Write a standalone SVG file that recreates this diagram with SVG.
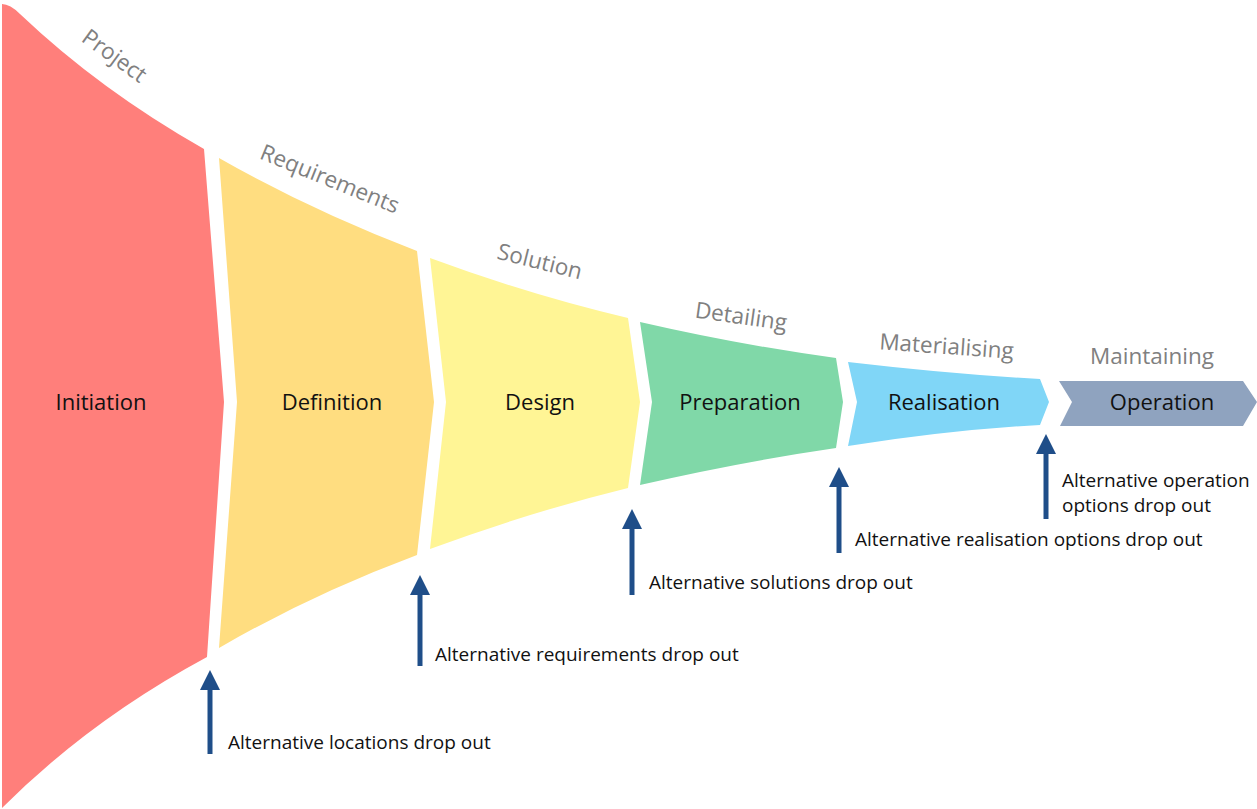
<svg xmlns="http://www.w3.org/2000/svg" width="1257" height="809" viewBox="0 0 1257 809">
<style>
.lbl{font-family:"Open Sans","Noto Sans",sans-serif;font-size:22px;fill:#111;text-anchor:middle;dominant-baseline:central}
.ph{font-family:"Open Sans","Noto Sans",sans-serif;font-size:22.5px;fill:#808080;text-anchor:middle}
.note{font-family:"Open Sans","Noto Sans",sans-serif;font-size:19px;fill:#111}
.arr{stroke:#1f4e89;stroke-width:5;fill:none}
</style>
<defs><marker id="ah" viewBox="0 0 10 10" refX="5" refY="5" markerWidth="4" markerHeight="4" orient="auto"><path d="M0,0L10,5L0,10z" fill="#1f4e89"/></marker></defs>
<rect width="1257" height="809" fill="#fff"/>
<g id="initiation"><path d="M2,4 Q10,4 20,14 Q100,90 204,149 L224,402 L207,657 Q90,720 2,808 Z" fill="#ff7f7b"/><text class="lbl" x="101" y="401">Initiation</text></g>
<g id="definition"><path d="M219,158 Q310,210 417,251 L434,402 L417,555 Q310,595 219,648 L237,402 Z" fill="#ffdd80"/><text class="lbl" x="332" y="401">Definition</text></g>
<g id="design"><path d="M430,258 Q530,295 628,318 L640,402 L628,488 Q530,512 430,549 L446,402 Z" fill="#fff595"/><text class="lbl" x="540" y="401">Design</text></g>
<g id="preparation"><path d="M640,322 Q740,345 836,358 L843,402 L836,448 Q740,462 640,485 L652,402 Z" fill="#80d8a8"/><text class="lbl" x="740" y="401">Preparation</text></g>
<g id="realisation"><path d="M848,362 Q950,374 1040,379 L1049,402 L1040,425 Q950,430 848,446 L857,402 Z" fill="#80d6f7"/><text class="lbl" x="944" y="401">Realisation</text></g>
<g id="operation"><path d="M1059,381 L1243,381 L1257,402 L1243,426 L1060,426 L1072,402 Z" fill="#8fa3bf"/><text class="lbl" x="1162" y="401">Operation</text></g>
<g id="phases">
<text class="ph" transform="translate(110,62) rotate(36)">Project</text>
<text class="ph" transform="translate(327,186) rotate(22)">Requirements</text>
<text class="ph" transform="translate(538,269) rotate(14)">Solution</text>
<text class="ph" transform="translate(740,324) rotate(8)">Detailing</text>
<text class="ph" transform="translate(946,354) rotate(4)">Materialising</text>
<text class="ph" x="1152" y="364">Maintaining</text>
</g>
<g id="connectors">
<path class="arr" d="M210,754V680" marker-end="url(#ah)"/>
<path class="arr" d="M420,666V585" marker-end="url(#ah)"/>
<path class="arr" d="M632,595V519" marker-end="url(#ah)"/>
<path class="arr" d="M839,553V477" marker-end="url(#ah)"/>
<path class="arr" d="M1046,519V444" marker-end="url(#ah)"/>
</g>
<g id="notes">
<text class="note" x="228" y="749">Alternative locations drop out</text>
<text class="note" x="435" y="661">Alternative requirements drop out</text>
<text class="note" x="649" y="589">Alternative solutions drop out</text>
<text class="note" x="855" y="546">Alternative realisation options drop out</text>
<text class="note" x="1062" y="487">Alternative operation</text>
<text class="note" x="1062" y="512">options drop out</text>
</g>
</svg>
